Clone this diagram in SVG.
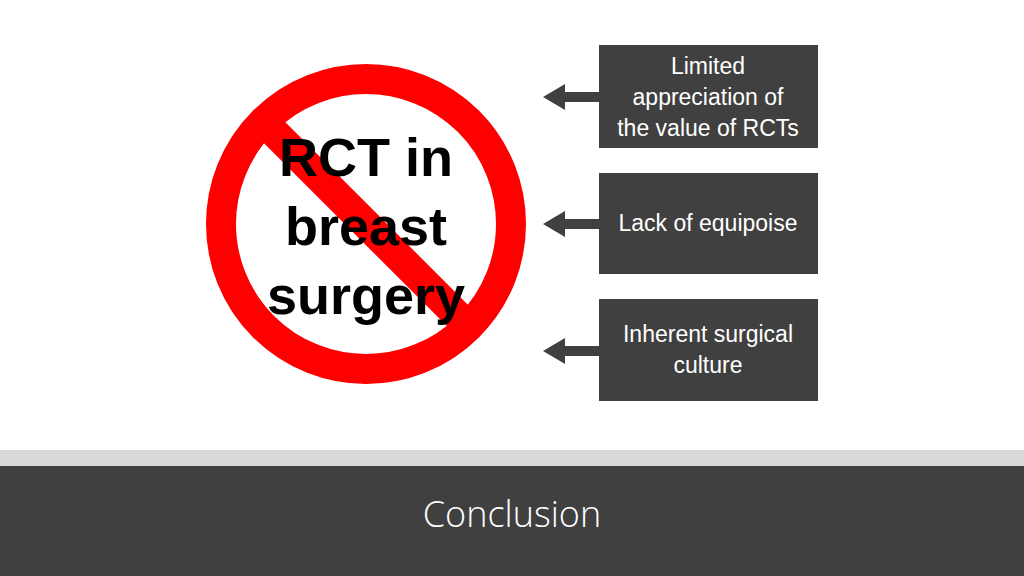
<svg xmlns="http://www.w3.org/2000/svg" width="1024" height="576" viewBox="0 0 1024 576">
<style>
.box{fill:#404040}
.bt{fill:#fff;font-family:"Liberation Sans",Arial,sans-serif;font-size:23px;text-anchor:middle}
.big{fill:#000;font-family:"Liberation Sans",Arial,sans-serif;font-size:54px;font-weight:bold;text-anchor:middle}
.arr{fill:#404040}
</style>
<rect width="1024" height="576" fill="#fff"/>
<g id="no-sign">
<circle cx="366" cy="224" r="145" fill="none" stroke="#ff0000" stroke-width="30"/>
<line x1="264" y1="122" x2="468" y2="326" stroke="#ff0000" stroke-width="30"/>
<text class="big" x="366" y="176">RCT in</text>
<text class="big" x="366" y="245">breast</text>
<text class="big" x="366" y="314">surgery</text>
</g>
<g id="box1"><rect class="box" x="599" y="45" width="219" height="103"/>
<text class="bt" x="708" y="74">Limited</text><text class="bt" x="708" y="105">appreciation of</text><text class="bt" x="708" y="136">the value of RCTs</text></g>
<g id="box2"><rect class="box" x="599" y="173" width="219" height="101"/>
<text class="bt" x="708" y="231">Lack of equipoise</text></g>
<g id="box3"><rect class="box" x="599" y="299" width="219" height="102"/>
<text class="bt" x="708" y="342">Inherent surgical</text><text class="bt" x="708" y="373">culture</text></g>
<g id="connectors">
<path class="arr" d="M543 97 L565 84 L565 92 L600 92 L600 102 L565 102 L565 110 Z"/>
<path class="arr" d="M543 224 L565 211 L565 219 L600 219 L600 229 L565 229 L565 237 Z"/>
<path class="arr" d="M543 351 L565 338 L565 346 L600 346 L600 356 L565 356 L565 364 Z"/>
</g>
<g id="footer">
<rect x="0" y="450" width="1024" height="16" fill="#d9d9d9"/>
<rect x="0" y="466" width="1024" height="110" fill="#404040"/>
<text x="512" y="527" fill="#ffffff" font-family="'Open Sans',sans-serif" font-size="36" font-weight="300" text-anchor="middle">Conclusion</text>
</g>
</svg>
